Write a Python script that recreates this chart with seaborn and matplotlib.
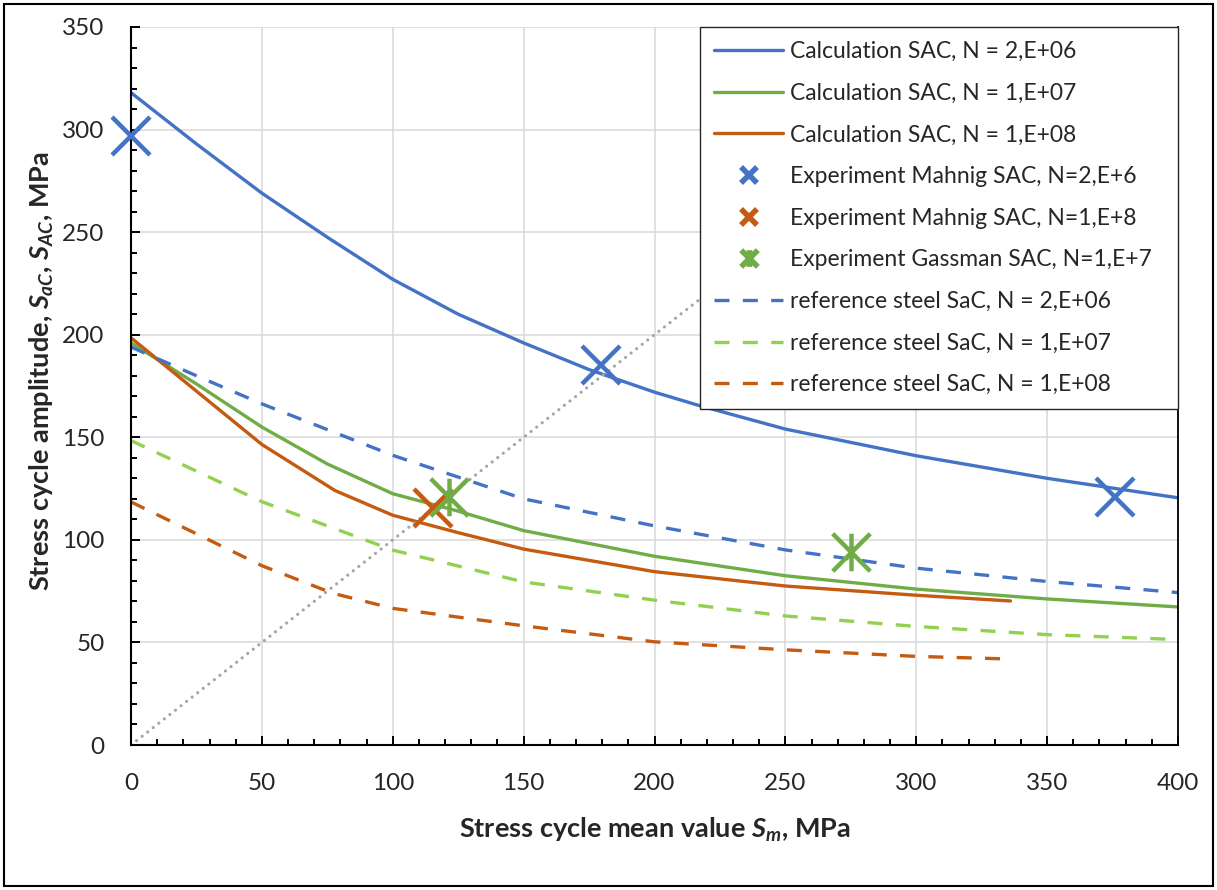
import matplotlib
matplotlib.use("Agg")
import matplotlib.pyplot as plt
from matplotlib.path import Path
from matplotlib.patches import Rectangle
from matplotlib.ticker import MultipleLocator
import seaborn as sns

# ---------------- data ----------------
calc_2e6_x = [0, 25, 50, 75, 100, 125, 150, 175, 200, 217, 250, 300, 350, 400]
calc_2e6_y = [318, 293, 269, 247.5, 227, 210, 196, 183, 172, 165.5, 154, 141, 130, 120.5]

calc_1e7_x = [0, 25, 50, 75, 100, 125, 150, 200, 250, 300, 350, 400]
calc_1e7_y = [196, 176, 155, 137, 122.5, 114, 104.5, 92, 82.5, 76, 71.2, 67.3]

calc_1e8_x = [0, 25, 50, 78, 100, 125, 150, 200, 250, 300, 336]
calc_1e8_y = [198.5, 172.5, 146.5, 124, 112, 103.5, 95.5, 84.5, 77.5, 73, 70.2]

exp_mahnig_2e6_x = [0, 179.5, 376]
exp_mahnig_2e6_y = [297, 185, 121]

exp_mahnig_1e8_x = [115.3]
exp_mahnig_1e8_y = [115.4]

exp_gassman_1e7_x = [121.3, 275]
exp_gassman_1e7_y = [120.8, 94.3]

ref_2e6_x = [0, 25, 50, 100, 150, 200, 250, 300, 350, 400]
ref_2e6_y = [194, 180, 166.3, 141.2, 120, 106.8, 95.1, 86.2, 79.7, 74.3]

ref_1e7_x = [0, 50, 100, 150, 200, 250, 300, 350, 400]
ref_1e7_y = [148.4, 118.6, 95, 79.5, 70.6, 62.9, 57.8, 53.8, 51.4]

ref_1e8_x = [0, 50, 77, 100, 150, 200, 250, 300, 336]
ref_1e8_y = [118.5, 87.4, 74, 66.6, 58.1, 50.3, 46.4, 43.2, 41.9]

# Sa = Sm reference line (partly hidden behind the legend)
diag_x = [0, 350]
diag_y = [0, 350]

x_ticks = [0, 50, 100, 150, 200, 250, 300, 350, 400]
y_ticks = [0, 50, 100, 150, 200, 250, 300, 350]

labels = [
    "Calculation SAC, N = 2,E+06",
    "Calculation SAC, N = 1,E+07",
    "Calculation SAC, N = 1,E+08",
    "Experiment Mahnig SAC, N=2,E+6",
    "Experiment Mahnig SAC, N=1,E+8",
    "Experiment Gassman SAC, N=1,E+7",
    "reference steel SaC, N = 2,E+06",
    "reference steel SaC, N = 1,E+07",
    "reference steel SaC, N = 1,E+08",
]

BLUE = "#4472C4"
GREEN = "#70AD47"
ORANGE = "#C55A11"
LGREEN = "#92D050"
GRAY = "#A5A5A5"

# ---------------- style ----------------
sns.set_style("white")
plt.rcParams["font.family"] = ["Lato", "DejaVu Sans"]
plt.rcParams["mathtext.fontset"] = "custom"
plt.rcParams["mathtext.it"] = "Lato:style=italic:weight=bold"
plt.rcParams["mathtext.rm"] = "Lato:weight=bold"
plt.rcParams["mathtext.bf"] = "Lato:weight=bold"

FS_TICK = 17.5
FS_LEG = 16.5
FS_LAB = 19.5

fig = plt.figure(figsize=(12.17, 8.9), dpi=100)
ax = fig.add_axes([131 / 1217, 1 - 745 / 890, 1047 / 1217, 718 / 890])

lw = 2.4
dash = (0, (4.5, 4))
common = dict(ax=ax, sort=False, estimator=None)

sns.lineplot(x=calc_2e6_x, y=calc_2e6_y, color=BLUE, lw=lw, label=labels[0], **common)
sns.lineplot(x=calc_1e7_x, y=calc_1e7_y, color=GREEN, lw=lw, label=labels[1], **common)
sns.lineplot(x=calc_1e8_x, y=calc_1e8_y, color=ORANGE, lw=lw, label=labels[2], **common)

# dotted diagonal (no legend)
sns.lineplot(x=diag_x, y=diag_y, color=GRAY, lw=2.3, linestyle=(0, (0.01, 2.2)),
             dash_capstyle="round", legend=False, **common)

star_path = Path([(-1, -1), (1, 1), (-1, 1), (1, -1), (0, -1), (0, 1)],
                 [Path.MOVETO, Path.LINETO, Path.MOVETO, Path.LINETO, Path.MOVETO, Path.LINETO])

mk = dict(linestyle="", markersize=27, markeredgewidth=3.2, zorder=5, clip_on=False)
sns.lineplot(x=exp_mahnig_2e6_x, y=exp_mahnig_2e6_y, color=BLUE, marker="x",
             markeredgecolor=BLUE, label=labels[3], **mk, **common)
sns.lineplot(x=exp_mahnig_1e8_x, y=exp_mahnig_1e8_y, color=ORANGE, marker="x",
             markeredgecolor=ORANGE, label=labels[4], **mk, **common)
sns.lineplot(x=exp_gassman_1e7_x, y=exp_gassman_1e7_y, color=GREEN, marker=star_path,
             markeredgecolor=GREEN, markerfacecolor="none", label=labels[5], **mk, **common)

sns.lineplot(x=ref_2e6_x, y=ref_2e6_y, color=BLUE, lw=lw, linestyle=dash, label=labels[6], **common)
sns.lineplot(x=ref_1e7_x, y=ref_1e7_y, color=LGREEN, lw=lw, linestyle=dash, label=labels[7], **common)
sns.lineplot(x=ref_1e8_x, y=ref_1e8_y, color=ORANGE, lw=lw, linestyle=dash, label=labels[8], **common)

# ---------------- axes ----------------
ax.set_xlim(0, 400)
ax.set_ylim(0, 350)
ax.set_xticks(x_ticks)
ax.set_yticks(y_ticks)
ax.set_xticklabels([str(t) for t in x_ticks])
ax.set_yticklabels([str(t) for t in y_ticks])
ax.xaxis.set_minor_locator(MultipleLocator(10))
ax.yaxis.set_minor_locator(MultipleLocator(10))
ax.tick_params(which="major", direction="in", length=6.5, width=1.4, color="black",
               labelsize=FS_TICK, pad=20, left=True, bottom=True)
ax.tick_params(which="minor", direction="in", length=4.3, width=1.4, color="black",
               left=True, bottom=True)
ax.tick_params(axis="y", which="major", pad=19)

ax.grid(True, which="major", color="#D9D9D9", lw=1.1)
ax.set_axisbelow(True)

for s in ["left", "bottom"]:
    ax.spines[s].set_color("black")
    ax.spines[s].set_linewidth(1.5)
ax.spines["right"].set_color("black")
ax.spines["right"].set_linewidth(1.3)
ax.spines["top"].set_visible(False)

ax.set_xlabel(r"Stress cycle mean value $S_m$, MPa", fontsize=FS_LAB, fontweight="bold", labelpad=16)
ax.set_ylabel(r"Stress cycle amplitude, $S_{aC}$, $S_{AC}$, MPa", fontsize=FS_LAB, fontweight="bold")
ax.yaxis.set_label_coords(-0.072, 0.52)

# ---------------- legend ----------------
handles, labs = ax.get_legend_handles_labels()
leg_x0 = (700 - 131) / 1047
leg = ax.legend(handles, labs, loc="upper left", bbox_to_anchor=(leg_x0, 0.0, 1.0 - leg_x0, 1.0),
                mode="expand", borderaxespad=0,
                fontsize=FS_LEG, frameon=True, fancybox=False, framealpha=1, edgecolor="#262626",
                handlelength=3.0, handletextpad=0.3, labelspacing=0.9, borderpad=0.62)
leg.get_frame().set_linewidth(1.0)
leg.set_zorder(10)
for h in leg.legend_handles:
    if h.get_marker() not in (None, "None", ""):
        h.set_markersize(12)
        h.set_markeredgewidth(4)

# outer border
fig.patches.append(Rectangle((4 / 1217, 4 / 890), 1 - 8 / 1217, 1 - 8 / 890, transform=fig.transFigure,
                             fill=False, edgecolor="black", lw=1.5))

fig.savefig("out.png", dpi=100)
